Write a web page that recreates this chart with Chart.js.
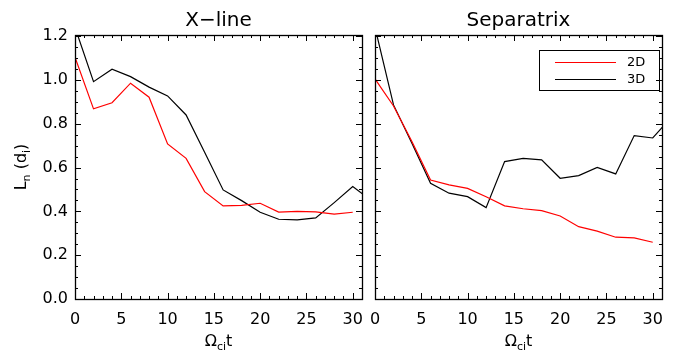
<!DOCTYPE html>
<html>
<head>
<meta charset="utf-8">
<script src="https://cdn.jsdelivr.net/npm/chart.js@4.4.1/dist/chart.umd.min.js"></script>
<style>
  html, body { margin: 0; padding: 0; background: #fff; }
  #wrap { position: relative; width: 676px; height: 356px; }
  canvas { position: absolute; left: 0; top: 0; }
</style>
</head>
<body>
<div id="wrap">
  <canvas id="xlineChart" width="676" height="356"></canvas>
  <canvas id="sepChart" width="676" height="356"></canvas>
</div>
<script>
// === data ===
const timeRed = [0, 2, 4, 6, 8, 10, 12, 14, 16, 18, 20, 22, 24, 26, 28, 30];
const timeBlack = [0, 2, 4, 6, 8, 10, 12, 14, 16, 18, 20, 22, 24, 26, 28, 30, 32];

const xline2D = [1.104, 0.868, 0.896, 0.985, 0.921, 0.708, 0.642, 0.490, 0.425, 0.427, 0.437, 0.397, 0.400, 0.398, 0.387, 0.396];
const xline3D = [1.24, 0.992, 1.049, 1.015, 0.967, 0.927, 0.840, 0.670, 0.498, 0.449, 0.396, 0.364, 0.361, 0.370, 0.440, 0.513, 0.45];
const sep2D = [1.005, 0.881, 0.718, 0.543, 0.521, 0.505, 0.467, 0.425, 0.412, 0.403, 0.379, 0.330, 0.310, 0.282, 0.279, 0.259];
const sep3D = [1.24, 0.886, 0.710, 0.528, 0.483, 0.467, 0.417, 0.627, 0.642, 0.635, 0.551, 0.563, 0.601, 0.571, 0.746, 0.735, 0.83];

const seriesNames = ["2D", "3D"];
const seriesColors = ["#ff0000", "#000000"];
const panelTitles = ["X\u2212line", "Separatrix"];

// axis ranges / tick steps
const X_MIN = 0, X_MAX = 31, X_STEP = 5, X_MINOR = 1;
const Y_MIN = 0, Y_MAX = 1.205, Y_STEP = 0.2, Y_MINOR = 0.05;

const FONT = "'DejaVu Sans', sans-serif";

// === helpers ===
function toPoints(xs, ys) {
    return ys.map((v, i) => ({ x: xs[i], y: v }));
}

function buildDatasets(red, black) {
    return [
        { label: seriesNames[0], data: toPoints(timeRed, red) },
        { label: seriesNames[1], data: toPoints(timeBlack, black) }
    ].map((ds, i) => ({
        ...ds,
        borderColor: seriesColors[i],
        backgroundColor: seriesColors[i],
        borderWidth: 1.2,
        pointRadius: 0,
        tension: 0,
        fill: false
    }));
}

// draws a string made of parts, some of them subscripted
function drawParts(ctx, parts, cx, cy, size) {
    const subSize = Math.round(size * 0.68);
    let w = 0;
    parts.forEach(p => {
        ctx.font = `${p.sub ? subSize : size}px ${FONT}`;
        w += ctx.measureText(p.t).width;
    });
    let x = cx - w / 2;
    ctx.textAlign = "left";
    ctx.textBaseline = "alphabetic";
    parts.forEach(p => {
        ctx.font = `${p.sub ? subSize : size}px ${FONT}`;
        ctx.fillText(p.t, x, p.sub ? cy + size * 0.22 : cy);
        x += ctx.measureText(p.t).width;
    });
}

// inward ticks on all four sides + frame, IDL style
const frameTicks = {
    id: "frameTicks",
    afterDraw(chart) {
        const { ctx, chartArea: a, scales } = chart;
        const xs = scales.x, ys = scales.y;
        ctx.save();
        ctx.strokeStyle = "#000";
        ctx.lineWidth = 1;
        ctx.beginPath();
        for (let v = X_MIN; v <= X_MAX; v += X_MINOR) {
            const px = Math.round(xs.getPixelForValue(v)) + 0.5;
            const len = v % X_STEP === 0 ? 6 : 3;
            ctx.moveTo(px, a.bottom); ctx.lineTo(px, a.bottom - len);
            ctx.moveTo(px, a.top); ctx.lineTo(px, a.top + len);
        }
        const nMinor = Math.floor((Y_MAX - Y_MIN) / Y_MINOR + 1e-6);
        const perMajor = Math.round(Y_STEP / Y_MINOR);
        for (let i = 0; i <= nMinor; i++) {
            const py = Math.round(ys.getPixelForValue(Y_MIN + i * Y_MINOR)) + 0.5;
            const len = i % perMajor === 0 ? 6 : 3;
            ctx.moveTo(a.left, py); ctx.lineTo(a.left + len, py);
            ctx.moveTo(a.right, py); ctx.lineTo(a.right - len, py);
        }
        ctx.stroke();
        ctx.lineWidth = 1.3;
        ctx.strokeRect(Math.round(a.left) + 0.5, Math.round(a.top) + 0.5,
            Math.round(a.right - a.left), Math.round(a.bottom - a.top));

        // x axis title: Omega_ci t
        ctx.fillStyle = "#000";
        drawParts(ctx, [{ t: "\u03A9" }, { t: "ci", sub: true }, { t: "t" }],
            (a.left + a.right) / 2, 346, 16);

        // y axis title only on the left panel
        if (chart.options.plugins.frameTicks.yTitle) {
            ctx.save();
            ctx.translate(26, (a.top + a.bottom) / 2);
            ctx.rotate(-Math.PI / 2);
            drawParts(ctx, [{ t: "L" }, { t: "n", sub: true }, { t: " (d" }, { t: "i", sub: true }, { t: ")" }],
                0, 0, 16);
            ctx.restore();
        }
        ctx.restore();
    }
};

// boxed legend inside the right panel
const boxLegend = {
    id: "boxLegend",
    afterDraw(chart) {
        if (!chart.options.plugins.boxLegend.show) return;
        const { ctx } = chart;
        ctx.save();
        ctx.strokeStyle = "#000";
        ctx.lineWidth = 1;
        ctx.strokeRect(539.5, 50.5, 120, 40);
        chart.data.datasets.forEach((ds, i) => {
            const y = 62.5 + i * 17;
            ctx.strokeStyle = ds.borderColor;
            ctx.lineWidth = 1.2;
            ctx.beginPath();
            ctx.moveTo(555, y);
            ctx.lineTo(616, y);
            ctx.stroke();
            ctx.fillStyle = "#000";
            ctx.font = `13px ${FONT}`;
            ctx.textAlign = "left";
            ctx.textBaseline = "middle";
            ctx.fillText(ds.label, 627, y + 0.5);
        });
        ctx.restore();
    }
};

function makePanel(canvasId, title, red, black, isLeft) {
    const ctx = document.getElementById(canvasId).getContext("2d");
    return new Chart(ctx, {
        type: "line",
        data: { datasets: buildDatasets(red, black) },
        plugins: [frameTicks, boxLegend],
        options: {
            responsive: false,
            animation: false,
            layout: {
                padding: isLeft
                    ? { left: 0, right: 314, top: 0, bottom: 0 }
                    : { left: 375, right: 14, top: 0, bottom: 0 }
            },
            plugins: {
                legend: { display: false },
                tooltip: { enabled: false },
                title: {
                    display: true,
                    text: title,
                    fullSize: false,
                    color: "#000",
                    font: { family: FONT, size: 20, weight: "normal", lineHeight: 1.2 },
                    padding: { top: 9, bottom: 2 }
                },
                frameTicks: { yTitle: isLeft },
                boxLegend: { show: !isLeft }
            },
            scales: {
                x: {
                    type: "linear",
                    min: X_MIN,
                    max: X_MAX,
                    grid: { display: false, drawTicks: false },
                    border: { display: false },
                    ticks: {
                        stepSize: X_STEP,
                        includeBounds: false,
                        maxRotation: 0,
                        padding: 11,
                        color: "#000",
                        font: { family: FONT, size: 16 }
                    },
                    afterFit: scale => { scale.height = 57; }
                },
                y: {
                    display: isLeft,
                    min: Y_MIN,
                    max: Y_MAX,
                    grid: { display: false, drawTicks: false },
                    border: { display: false },
                    ticks: {
                        stepSize: Y_STEP,
                        includeBounds: false,
                        padding: 7,
                        color: "#000",
                        font: { family: FONT, size: 16 },
                        callback: v => Number(v).toFixed(1)
                    },
                    afterFit: scale => { scale.width = isLeft ? 75 : 0; }
                }
            }
        }
    });
}

makePanel("xlineChart", panelTitles[0], xline2D, xline3D, true);
makePanel("sepChart", panelTitles[1], sep2D, sep3D, false);
</script>
</body>
</html>
